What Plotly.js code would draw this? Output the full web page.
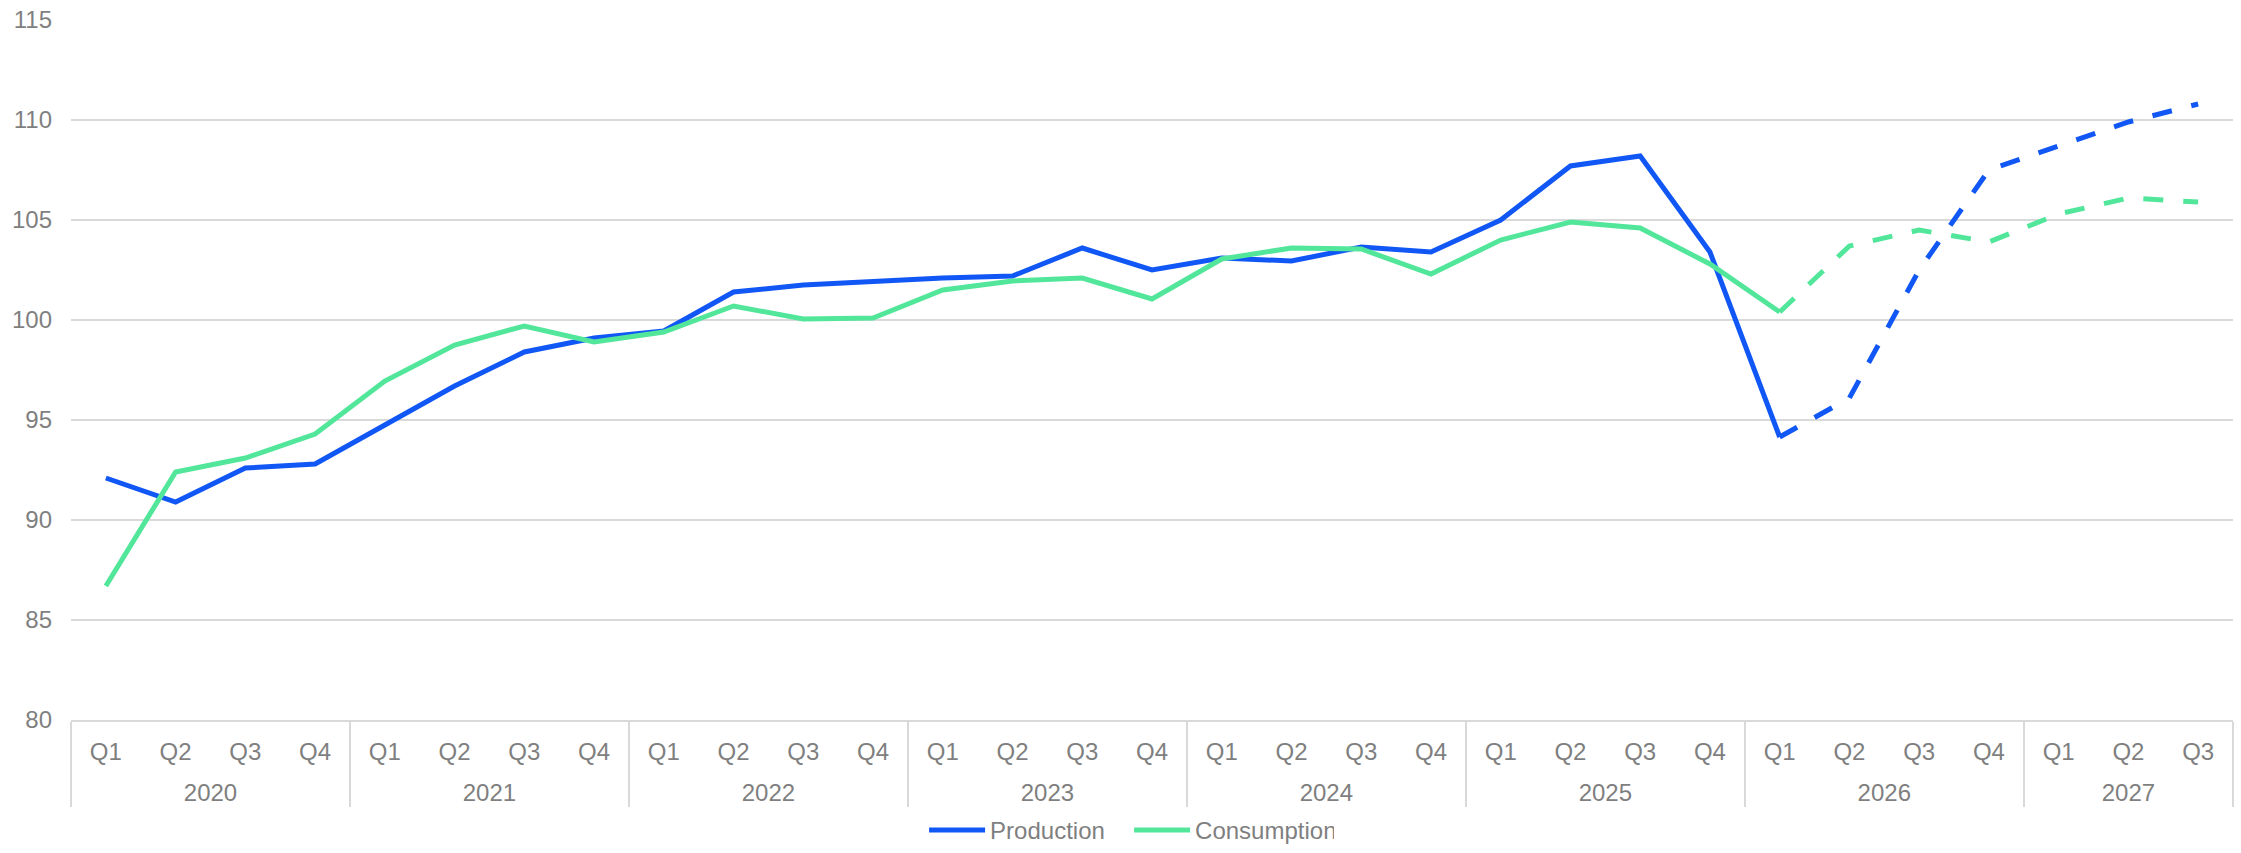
<!DOCTYPE html>
<html>
<head>
<meta charset="utf-8">
<script src="https://cdn.plot.ly/plotly-3.0.1.min.js"></script>
<style>
html, body { margin: 0; padding: 0; background: #ffffff; }
#chart { width: 2241px; height: 853px; }
</style>
</head>
<body>
<div id="chart"></div>
<script>
// Category labels
const years = ["2020","2020","2020","2020","2021","2021","2021","2021","2022","2022","2022","2022",
  "2023","2023","2023","2023","2024","2024","2024","2024","2025","2025","2025","2025",
  "2026","2026","2026","2026","2027","2027","2027"];
const quarters = ["Q1","Q2","Q3","Q4","Q1","Q2","Q3","Q4","Q1","Q2","Q3","Q4",
  "Q1","Q2","Q3","Q4","Q1","Q2","Q3","Q4","Q1","Q2","Q3","Q4",
  "Q1","Q2","Q3","Q4","Q1","Q2","Q3"];

// Actual values: Q1 2020 .. Q1 2026 (25 points)
const productionActual = [92.1, 90.9, 92.6, 92.8, 94.75, 96.7, 98.4, 99.1, 99.45, 101.4, 101.75, 101.95,
  102.1, 102.2, 103.6, 102.5, 103.1, 102.95, 103.65, 103.4, 105.0, 107.7, 108.2, 103.4, 94.15];
const consumptionActual = [86.7, 92.4, 93.1, 94.3, 96.95, 98.75, 99.7, 98.9, 99.4, 100.7, 100.05, 100.1,
  101.5, 101.95, 102.1, 101.05, 103.05, 103.6, 103.55, 102.3, 104.0, 104.9, 104.6, 102.8, 100.4];

// Forecast values: Q1 2026 .. Q3 2027 (7 points)
const productionForecast = [94.15, 96.1, 102.5, 107.5, 108.7, 109.9, 110.8];
const consumptionForecast = [100.4, 103.7, 104.5, 103.9, 105.3, 106.1, 105.9];

// quarter labels get a tiny blank second line so the year row sits a bit lower
const quarterLabels = quarters.map(q => q + "<br><span style='font-size:1px;baseline-shift:5px'>&nbsp;</span>");

const nActual = productionActual.length;
const fStart = nActual - 1;

const xActual = [years.slice(0, nActual), quarterLabels.slice(0, nActual)];
const xForecast = [years.slice(fStart), quarterLabels.slice(fStart)];

const blue = "#1157F5";
const green = "#52E69B";
const grey = "#7F7F7F";
const gridGrey = "#D9D9D9";

const traces = [
  { type: "scatter", mode: "lines", name: "Production", x: xActual, y: productionActual,
    line: { color: blue, width: 5 }, hoverinfo: "skip" },
  { type: "scatter", mode: "lines", name: "Consumption", x: xActual, y: consumptionActual,
    line: { color: green, width: 5 }, hoverinfo: "skip" },
  { type: "scatter", mode: "lines", name: "Production forecast", x: xForecast, y: productionForecast,
    line: { color: blue, width: 5, dash: "20px,20px" }, showlegend: false, hoverinfo: "skip" },
  { type: "scatter", mode: "lines", name: "Consumption forecast", x: xForecast, y: consumptionForecast,
    line: { color: green, width: 5, dash: "20px,20px" }, showlegend: false, hoverinfo: "skip" }
];

const layout = {
  width: 2241,
  height: 853,
  paper_bgcolor: "#ffffff",
  plot_bgcolor: "#ffffff",
  margin: { l: 71, r: 8, t: 20, b: 133, pad: 0 },
  font: { family: "Liberation Sans, Arial, sans-serif", size: 24, color: grey },
  showlegend: true,
  legend: {
    orientation: "h",
    xref: "paper",
    x: 0.4894, xanchor: "center",
    yref: "container",
    y: -0.05, yanchor: "bottom",
    font: { size: 24, color: grey },
    traceorder: "normal",
    itemwidth: 56,
    entrywidth: 134,
    entrywidthmode: "pixels"
  },
  xaxis: {
    type: "multicategory",
    range: [-0.5, quarters.length - 0.5],
    automargin: false,
    showgrid: false,
    showline: true,
    linecolor: gridGrey,
    linewidth: 2,
    showdividers: true,
    dividercolor: gridGrey,
    dividerwidth: 2,
    tickfont: { size: 24, color: grey },
    ticks: "",
    ticklabelstandoff: 9,
    zeroline: false,
    fixedrange: true
  },
  yaxis: {
    range: [80, 115],
    dtick: 5,
    tick0: 80,
    automargin: false,
    showgrid: true,
    gridcolor: gridGrey,
    gridwidth: 1.5,
    zeroline: false,
    showline: false,
    ticks: "",
    ticklabelstandoff: 18,
    tickfont: { size: 24, color: grey },
    fixedrange: true
  }
};

Plotly.newPlot("chart", traces, layout, { displayModeBar: false, staticPlot: true });
</script>
</body>
</html>
